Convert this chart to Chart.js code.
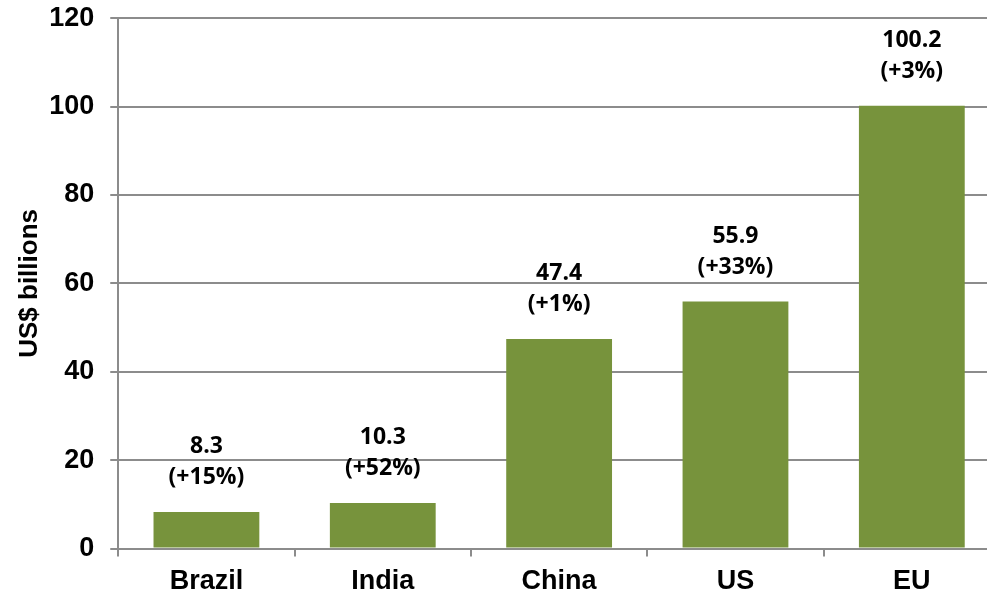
<!DOCTYPE html>
<html>
<head>
<meta charset="utf-8">
<script src="https://cdn.jsdelivr.net/npm/chart.js@4"></script>
<style>
  html, body { margin: 0; padding: 0; background: #fff; overflow: hidden; }
  #wrap { width: 1000px; height: 608px; margin-top: -14px; }
</style>
</head>
<body>
<div id="wrap"><canvas id="chart"></canvas></div>
<script>
// values
const regions = ['Brazil', 'India', 'China', 'US', 'EU'];
const amounts = [8.3, 10.3, 47.4, 55.9, 100.2];
const changes = ['(+15%)', '(+52%)', '(+1%)', '(+33%)', '(+3%)'];
const yTicks = [0, 20, 40, 60, 80, 100, 120];

const gray = '#8c8c8c';

// two-line labels above each bar
const barLabels = {
    id: 'barLabels',
    afterDatasetsDraw(chart) {
        const c = chart.ctx;
        const meta = chart.getDatasetMeta(0);
        c.save();
        c.fillStyle = '#000';
        c.textAlign = 'center';
        c.textBaseline = 'alphabetic';
        c.font = 'bold 23px "Open Sans"';
        meta.data.forEach((bar, i) => {
            c.fillText(changes[i], bar.x, bar.y - 28);
            c.fillText(amounts[i].toFixed(1), bar.x, bar.y - 59);
        });
        c.restore();
    }
};

const config = {
    type: 'bar',
    data: {
        labels: regions,
        datasets: [{
            data: amounts,
            backgroundColor: '#77933C',
            categoryPercentage: 1,
            barPercentage: 0.6,
        }]
    },
    options: {
        responsive: true,
        maintainAspectRatio: false,
        animation: false,
        layout: { padding: { top: 0, left: 14, right: 0, bottom: -13 } },
        plugins: {
            legend: { display: false },
            tooltip: { enabled: false },
        },
        scales: {
            x: {
                grid: { display: true, drawOnChartArea: false, offset: true, color: gray, lineWidth: 2, tickLength: 8 },
                border: { display: true, color: gray, width: 2 },
                ticks: { color: '#000', font: { family: 'Liberation Sans', size: 27, weight: 'bold' }, padding: 9 },
            },
            y: {
                min: 0,
                max: 120,
                afterBuildTicks: axis => { axis.ticks = yTicks.map(v => ({ value: v })); },
                grid: { color: gray, lineWidth: 2, tickLength: 8 },
                border: { display: true, color: gray, width: 2 },
                ticks: { color: '#000', font: { family: 'Liberation Sans', size: 27, weight: 'bold' }, padding: 16 },
                title: {
                    display: true,
                    text: 'US$ billions',
                    color: '#000',
                    font: { family: 'Liberation Sans', size: 26, weight: 'bold' },
                    padding: { top: 0, bottom: -12 },
                }
            }
        }
    },
    plugins: [barLabels]
};

const graphChart = new Chart(document.getElementById('chart').getContext('2d'), config);
</script>
</body>
</html>
